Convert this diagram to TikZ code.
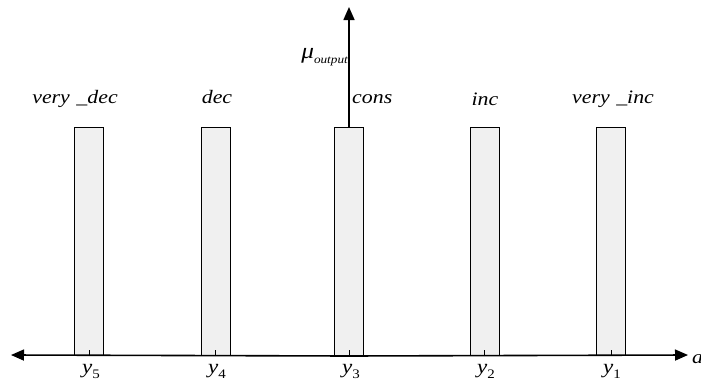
\documentclass[tikz,border=0pt]{standalone}
\usepackage{fontspec}
\setmainfont{Liberation Serif}
\usetikzlibrary{arrows.meta}
\newcommand{\hs}[1]{\scalebox{1.15}[1]{#1}}
\newcommand{\ysub}[1]{\hs{\textit{y}\raisebox{-0.55ex}{\fontsize{13}{13}\selectfont #1}}}
\begin{document}
\begin{tikzpicture}[x=1pt,y=-1pt,
  bar/.style={draw=black,line width=1pt,fill=black!6,minimum width=29pt,minimum height=228pt,inner sep=0pt,anchor=north},
  axis/.style={line width=1.6pt,-{Triangle[length=13pt,width=11pt]}},
  lbl/.style={font=\fontsize{19}{19}\selectfont\itshape,inner sep=0pt,anchor=base},
  ylbl/.style={font=\fontsize{20}{20}\selectfont,inner sep=0pt,anchor=base},
  tick/.style={line width=0.9pt}]
\useasboundingbox (0,0) rectangle (701,383);
\node[bar] (b5) at (89,127) {};
\node[bar] (b4) at (215.5,127) {};
\node[bar] (b3) at (349,127) {};
\node[bar] (b2) at (484.5,127) {};
\node[bar] (b1) at (611,127) {};
\coordinate (L) at (11,355);
\coordinate (R) at (688,355);
\coordinate (T) at (349,7);
\draw[axis] (b3.south) -- (L);
\draw[axis] (b3.south) -- (R);
\draw[axis] (b3.north) -- (T);
\foreach \n in {1,...,5}{
  \coordinate (t\n) at ([yshift=6pt]b\n.south);
  \draw[tick] (b\n.south) -- (t\n);
}
\node[ylbl] (y5) at (91,373) {\ysub{5}};
\node[ylbl] (y4) at (217,373) {\ysub{4}};
\node[ylbl] (y3) at (351,373) {\ysub{3}};
\node[ylbl] (y2) at (486,373) {\ysub{2}};
\node[ylbl] (y1) at (612,373) {\ysub{1}};
\node[lbl,anchor=base west] (a) at (692,363) {\hs{a}};
\node[lbl] (l5) at (75,103) {\hs{very\hspace{0.3em}\_dec}};
\node[lbl] (l4) at (217,103) {\hs{dec}};
\node[lbl,anchor=base west] (l3) at (352,103) {\hs{cons}};
\node[lbl] (l2) at (485,105) {\hs{inc}};
\node[lbl] (l1) at (613,103) {\hs{very\hspace{0.3em}\_inc}};
\node[inner sep=0pt,anchor=base east] (mu) at (348,58) {\hs{\fontsize{22}{22}\selectfont\itshape μ\raisebox{-0.55ex}{\fontsize{11.5}{11.5}\selectfont output}}};
\end{tikzpicture}
\end{document}
